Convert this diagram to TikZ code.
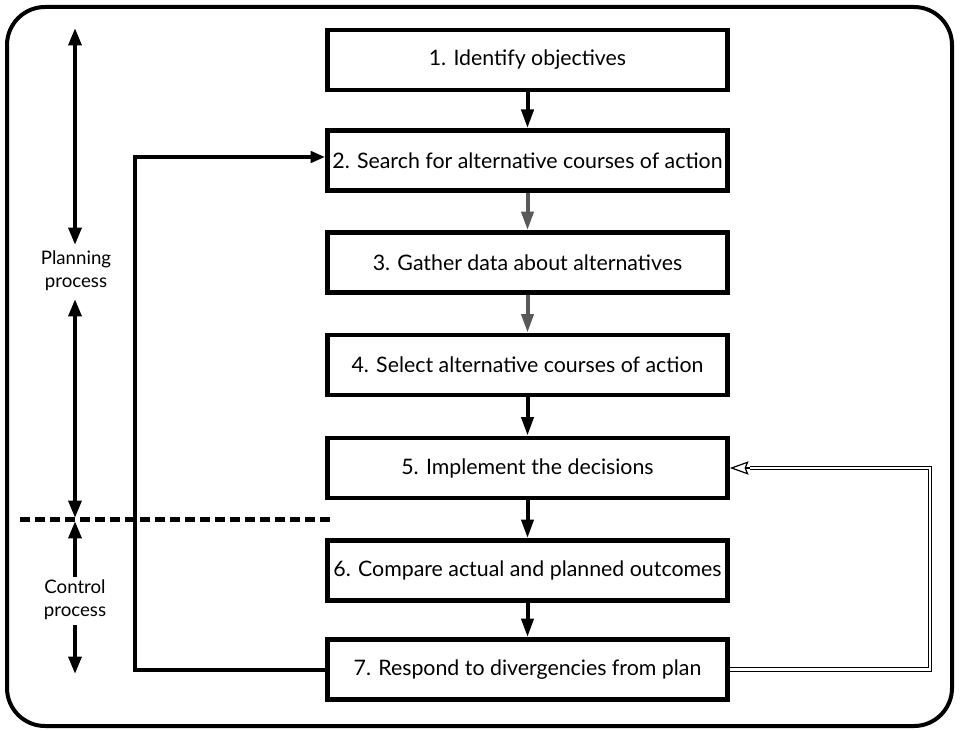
\documentclass[tikz,border=0pt]{standalone}
\usepackage{fontspec}
\setmainfont{Lato}
\usetikzlibrary{arrows.meta}

\tikzset{sidetip/.tip={Triangle[length=13pt,width=9.5pt]}}

\begin{document}
\begin{tikzpicture}[x=0.75pt,y=-0.75pt,
  stepbox/.style={draw, line width=3.5pt, minimum width=300pt, minimum height=45pt,
    inner sep=0pt, font=\fontsize{16}{19}\selectfont},
  sidelabel/.style={align=center, font=\fontsize{14}{17}\selectfont},
  flow/.style={line width=3pt, -{Triangle[length=14pt,width=9pt]}},
  flowgrey/.style={flow, draw=black!65},
  side/.style={line width=3pt},
  loopline/.style={line width=3pt, -{Triangle[length=11pt,width=8.5pt]}},
  returnline/.style={double, double distance=1.6pt, line width=0.8pt},
  returntip/.style={line width=0.9pt, -{Stealth[open, length=14pt, width=10pt, inset=2pt]}},
  divider/.style={line width=3.75pt, dash pattern=on 7.5pt off 3.75pt}]

\useasboundingbox (0,0) rectangle (960,731);

% outer frame
\draw[line width=3pt, rounded corners=28.5pt] (7,7) rectangle (952,726);

% process steps
\node[stepbox] (s1) at (527.5,60)    {1. Identify objectives};
\node[stepbox] (s2) at (527.5,160.5) {2. Search for alternative courses of action};
\node[stepbox] (s3) at (527.5,262.5) {3. Gather data about alternatives};
\node[stepbox] (s4) at (527.5,365)   {4. Select alternative courses of action};
\node[stepbox] (s5) at (527.5,468)   {5. Implement the decisions};
\node[stepbox] (s6) at (527.5,570.5) {6. Compare actual and planned outcomes};
\node[stepbox] (s7) at (527.5,669.5) {7. Respond to divergencies from plan};

% sequence arrows
\draw[flow]     (s1.south) -- (s2.north);
\draw[flowgrey] (s2.south) -- (s3.north);
\draw[flowgrey] (s3.south) -- (s4.north);
\draw[flow]     (s4.south) -- (s5.north);
\draw[flow]     (s5.south) -- (s6.north);
\draw[flow]     (s6.south) -- (s7.north);

% side labels and extent arrows
\node[sidelabel] (plan) at (76,271) {Planning\\process};
\node[sidelabel] (ctrl) at (75,600) {Control\\process};

\coordinate (pa) at (75,28);
\coordinate (pb) at (75,245);
\coordinate (pc) at (75,299);
\coordinate (pd) at (75,518);
\coordinate (pe) at (75,577);
\coordinate (pf) at (75,521);
\coordinate (pg) at (75,625);
\coordinate (ph) at (75,674);

\draw[side, sidetip-sidetip] (pa) -- (pb);
\draw[side, sidetip-sidetip] (pc) -- (pd);
\draw[side, -sidetip] (pe) -- (pf);
\draw[side, -sidetip] (pg) -- (ph);

% planning / control divider
\coordinate (dl) at (20,519);
\coordinate (dr) at (333,519);
\draw[divider] (dl) -- (dr);

% feedback from step 7 to step 2
\coordinate (lc) at (135,157);
\draw[loopline] (s7.west) -| (lc) -- (lc -| s2.west);

% feedback from step 7 to step 5: double rule with an open head
\coordinate (rc) at (930,468);
\coordinate (rt) at (750,468);
\draw[returnline] (s7.east) -| (rc) -- (rt);
\draw[returntip] (rt) -- (s5.east);

\end{tikzpicture}
\end{document}
